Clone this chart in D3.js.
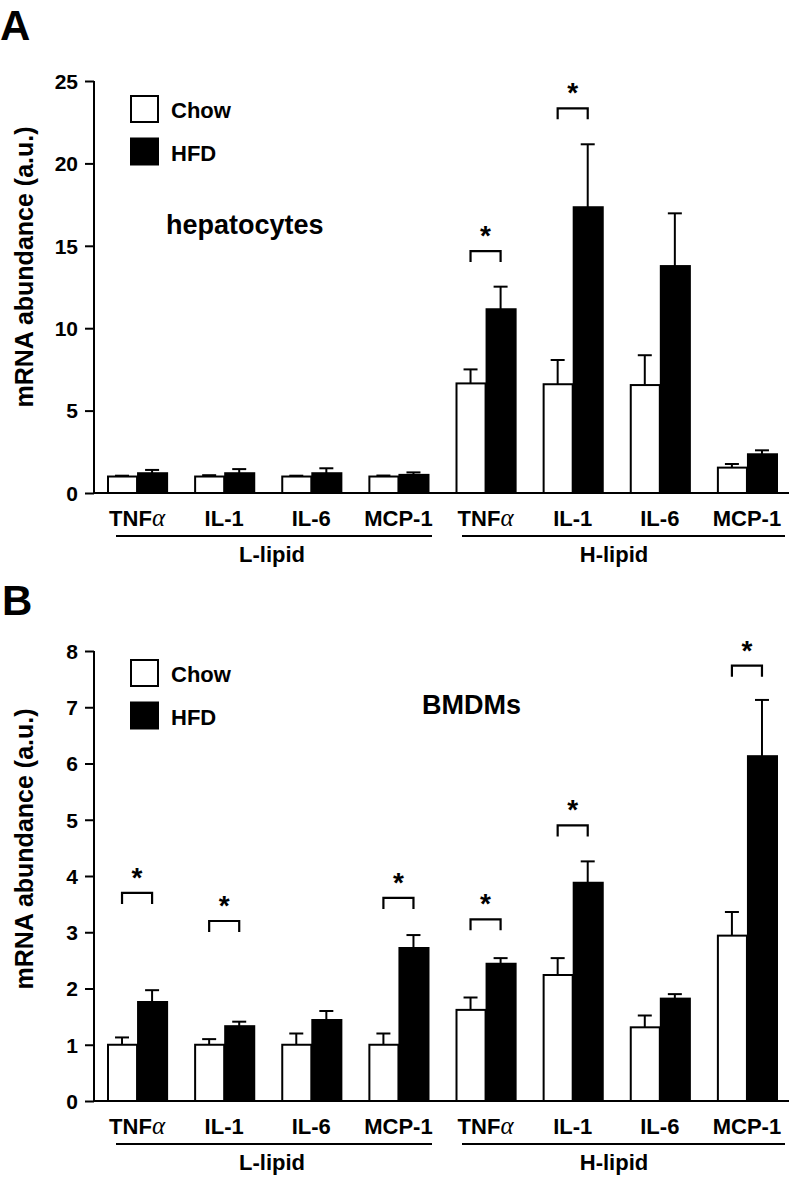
<!DOCTYPE html>
<html>
<head>
<meta charset="utf-8">
<script src="https://cdn.jsdelivr.net/npm/d3@7"></script>
<style>
  html, body { margin: 0; padding: 0; background: #fff; }
  svg { display: block; }
  text { font-family: "Liberation Sans", Arial, sans-serif; font-weight: bold; fill: #000; }
</style>
</head>
<body>
<svg id="chart" width="799" height="1179"></svg>
<script>
// ---- Data ----
const genes = ["TNFα", "IL-1", "IL-6", "MCP-1", "TNFα", "IL-1", "IL-6", "MCP-1"];
const lipidGroups = ["L-lipid", "H-lipid"];
const seriesNames = ["Chow", "HFD"];

// Panel A: hepatocytes
const aChow    = [1.0, 1.0, 1.0, 1.0, 6.65, 6.6, 6.55, 1.54];
const aChowSem = [0.05, 0.08, 0.05, 0.06, 0.85, 1.47, 1.81, 0.22];
const aHfd     = [1.2, 1.2, 1.2, 1.1, 11.15, 17.34, 13.77, 2.35];
const aHfdSem  = [0.2, 0.25, 0.3, 0.15, 1.37, 3.82, 3.2, 0.24];
const aSig     = [null, null, null, null, 14.68, 23.34, null, null]; // bracket level (a.u.)
const aTicks   = [0, 5, 10, 15, 20, 25];

// Panel B: BMDMs
const bChow    = [1.0, 1.0, 1.0, 1.0, 1.62, 2.24, 1.31, 2.94];
const bChowSem = [0.13, 0.1, 0.2, 0.2, 0.22, 0.3, 0.21, 0.42];
const bHfd     = [1.76, 1.33, 1.44, 2.72, 2.44, 3.88, 1.82, 6.13];
const bHfdSem  = [0.21, 0.08, 0.16, 0.23, 0.1, 0.38, 0.08, 1.0];
const bSig     = [3.70, 3.20, null, 3.61, 3.23, 4.90, null, 7.74];
const bTicks   = [0, 1, 2, 3, 4, 5, 6, 7, 8];

const svg = d3.select("#chart");

function drawPanel(o) {
  const g = svg.append("g");
  const x = d3.scaleBand().domain(d3.range(genes.length)).range([107, 777]).paddingInner(0.31);
  const bw = x.bandwidth() / 2;
  const y = d3.scaleLinear().domain([0, o.ticks[o.ticks.length - 1]]).range([o.y0, o.y1]);

  // panel letter
  g.append("text").attr("x", o.letterX).attr("y", o.letterY).attr("font-size", 42).text(o.letter);

  // y axis
  const yAxis = d3.axisLeft(y).tickValues(o.ticks).tickSize(9).tickPadding(7).tickFormat(d3.format("d"));
  const ya = g.append("g").attr("transform", "translate(94,0)").call(yAxis);
  ya.select(".domain").attr("stroke", "#000").attr("stroke-width", 2).attr("d", `M0,${o.y1}V${o.y0}`);
  ya.selectAll(".tick line").attr("stroke", "#000").attr("stroke-width", 2);
  ya.selectAll(".tick text").attr("font-size", 21).attr("font-family", "Liberation Sans, Arial, sans-serif").attr("font-weight", "bold").attr("dy", "0.35em");

  // x baseline
  g.append("line").attr("x1", 93).attr("x2", 789).attr("y1", y(0)).attr("y2", y(0))
    .attr("stroke", "#000").attr("stroke-width", 2);

  // y label
  g.append("text")
    .attr("transform", `translate(${o.ylabX},${o.ylabY}) rotate(-90)`)
    .attr("text-anchor", "middle").attr("font-size", 25)
    .text("mRNA abundance (a.u.)");

  // bars
  const series = [
    { vals: o.chow, sem: o.chowSem, fill: "#fff", off: 0 },
    { vals: o.hfd, sem: o.hfdSem, fill: "#000", off: 1 }
  ];
  series.forEach(s => {
    g.selectAll(null).data(s.vals).enter().append("line")
      .attr("x1", (d, i) => x(i) + bw * s.off + bw / 2)
      .attr("x2", (d, i) => x(i) + bw * s.off + bw / 2)
      .attr("y1", d => y(d))
      .attr("y2", (d, i) => y(d + s.sem[i]))
      .attr("stroke", "#000").attr("stroke-width", 2);
    g.selectAll(null).data(s.vals).enter().append("line")
      .attr("x1", (d, i) => x(i) + bw * s.off + bw / 2 - 7)
      .attr("x2", (d, i) => x(i) + bw * s.off + bw / 2 + 7)
      .attr("y1", (d, i) => y(d + s.sem[i]))
      .attr("y2", (d, i) => y(d + s.sem[i]))
      .attr("stroke", "#000").attr("stroke-width", 2);
    g.selectAll(null).data(s.vals).enter().append("rect")
      .attr("x", (d, i) => x(i) + bw * s.off + 1)
      .attr("width", bw - 1)
      .attr("y", d => y(d))
      .attr("height", d => y(0) - y(d))
      .attr("fill", s.fill).attr("stroke", "#000").attr("stroke-width", 2);
  });

  // significance brackets
  o.sig.forEach((lvl, i) => {
    if (lvl == null) return;
    const xa = x(i) + bw / 2, xb = x(i) + bw * 1.5;
    const yt = y(lvl);
    g.append("path").attr("d", `M${xa},${yt + 11}V${yt}H${xb}V${yt + 11}`)
      .attr("fill", "none").attr("stroke", "#000").attr("stroke-width", 2.2);
    g.append("text").attr("x", (xa + xb) / 2).attr("y", yt - 6)
      .attr("text-anchor", "middle").attr("font-size", 28).text("*");
  });

  // category labels
  const labY = y(0) + 33;
  genes.forEach((name, i) => {
    const t = g.append("text").attr("x", x(i) + bw).attr("y", labY)
      .attr("text-anchor", "middle").attr("font-size", 22);
    if (name.endsWith("α")) {
      t.append("tspan").text(name.slice(0, -1));
      t.append("tspan").attr("font-family", "Liberation Serif, Times New Roman, serif")
        .attr("font-weight", "normal").attr("font-style", "italic").attr("font-size", 25).text("α");
    } else {
      t.text(name);
    }
  });

  // group lines and labels
  const groupSpans = [[116, 432], [462, 785]];
  lipidGroups.forEach((gn, k) => {
    const [a, b] = groupSpans[k];
    g.append("line").attr("x1", a).attr("x2", b).attr("y1", labY + 10).attr("y2", labY + 10)
      .attr("stroke", "#000").attr("stroke-width", 2);
    g.append("text").attr("x", k === 0 ? 272 : 614).attr("y", labY + 36)
      .attr("text-anchor", "middle").attr("font-size", 22).text(gn);
  });

  // legend
  seriesNames.forEach((n, k) => {
    const by = o.legY + k * o.legGap;
    g.append("rect").attr("x", 131).attr("y", by).attr("width", 27).attr("height", 26)
      .attr("fill", k === 0 ? "#fff" : "#000").attr("stroke", "#000").attr("stroke-width", 2);
    g.append("text").attr("x", 171).attr("y", by + 22).attr("font-size", 22).text(n);
  });

  // panel title
  g.append("text").attr("x", o.titleX).attr("y", o.titleY).attr("font-size", 27).text(o.title);
}

drawPanel({
  letter: "A", letterX: 0, letterY: 40,
  chow: aChow, chowSem: aChowSem, hfd: aHfd, hfdSem: aHfdSem, sig: aSig, ticks: aTicks,
  y0: 493, y1: 81, ylabX: 33, ylabY: 267,
  legY: 96, legGap: 42.5,
  title: "hepatocytes", titleX: 166, titleY: 234
});

drawPanel({
  letter: "B", letterX: 2, letterY: 615,
  chow: bChow, chowSem: bChowSem, hfd: bHfd, hfdSem: bHfdSem, sig: bSig, ticks: bTicks,
  y0: 1101, y1: 651, ylabX: 33, ylabY: 849,
  legY: 660, legGap: 42.5,
  title: "BMDMs", titleX: 422, titleY: 714
});
</script>
</body>
</html>
